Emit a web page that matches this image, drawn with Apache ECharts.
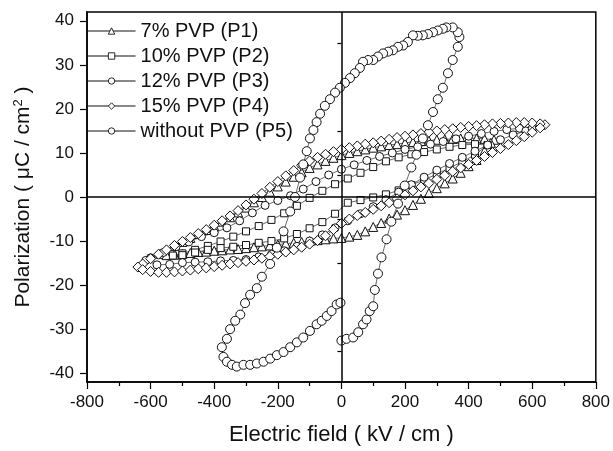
<!DOCTYPE html>
<html>
<head>
<meta charset="utf-8">
<script src="https://cdn.jsdelivr.net/npm/echarts@6/dist/echarts.min.js"></script>
<style>
  html, body { margin: 0; padding: 0; background: #fff; }
  #chart { width: 613px; height: 451px; }
</style>
</head>
<body>
<div id="chart"></div>
<script>
// legend names
const names = ['7% PVP (P1)', '10% PVP (P2)', '12% PVP (P3)', '15% PVP (P4)', 'without PVP (P5)'];

// tick labels
const xTicks = [-800, -600, -400, -200, 0, 200, 400, 600, 800];
const yTicks = [-40, -30, -20, -10, 0, 10, 20, 30, 40];
const yMinor = [-35, -25, -15, -5, 5, 15, 25, 35];

// P1, 7% PVP : [E (kV/cm), P (uC/cm2)], upper branch then lower branch
const p1 = [
  [480, 13.0], [450, 13.2], [425, 13.3], [400, 13.3], [375, 13.3], [350, 13.2], [325, 13.1], [300, 13.0],
  [275, 12.8], [250, 12.7], [225, 12.5], [200, 12.3], [175, 12.0], [150, 11.8], [125, 11.5], [100, 11.2],
  [75, 10.8], [50, 10.4], [25, 10.0], [0, 9.5], [-25, 8.9], [-50, 8.2], [-75, 7.4], [-100, 6.6],
  [-125, 5.6], [-150, 4.6], [-175, 3.5], [-200, 2.4], [-225, 1.2], [-250, 0.0], [-275, -1.2], [-300, -2.4],
  [-325, -3.5], [-350, -4.6], [-375, -5.6], [-400, -6.6], [-425, -7.5], [-450, -8.4], [-475, -9.3],
  [-500, -10.2], [-525, -11.1], [-550, -12.0], [-570, -12.9],
  [-550, -13.2], [-525, -13.1], [-500, -12.9], [-475, -12.7], [-450, -12.5], [-425, -12.4], [-400, -12.2],
  [-375, -12.1], [-350, -11.9], [-325, -11.8], [-300, -11.6], [-275, -11.4], [-250, -11.2], [-225, -11.0],
  [-200, -10.8], [-175, -10.6], [-150, -10.4], [-125, -10.2], [-100, -10.0], [-75, -9.8], [-50, -9.6],
  [-25, -9.4], [0, -9.3], [25, -9.0], [50, -8.6], [75, -7.8], [100, -6.8], [125, -5.9], [150, -4.9],
  [175, -4.0], [200, -3.0], [225, -1.8], [250, -0.4], [275, 0.9], [300, 2.0], [325, 3.1], [350, 4.2],
  [375, 5.5], [400, 7.0], [425, 8.4], [450, 10.5], [470, 12.3]
];

// P2, 10% PVP
const p2 = [
  [460, 11.8], [420, 12.0], [380, 11.8], [340, 11.4], [300, 10.8], [260, 10.2], [220, 9.7], [180, 9.0],
  [140, 8.1], [100, 6.8], [60, 5.5], [20, 4.2], [-20, 2.9], [-60, 1.4], [-100, -0.2], [-140, -2.0],
  [-180, -3.7], [-220, -5.2], [-260, -6.6], [-300, -7.8], [-340, -9.0], [-380, -10.1], [-420, -11.1],
  [-460, -12.0], [-500, -12.8], [-530, -13.3],
  [-500, -13.2], [-460, -12.6], [-420, -12.0], [-380, -11.6], [-340, -11.3], [-300, -10.9], [-260, -10.4],
  [-220, -10.0], [-180, -9.4], [-140, -8.4], [-100, -7.1], [-60, -5.7], [-20, -3.8], [20, -1.3],
  [60, -0.7], [100, -0.1], [140, 0.6], [180, 1.5], [220, 2.7], [260, 3.9], [300, 5.2], [340, 6.6],
  [380, 8.0], [420, 9.6], [460, 11.8]
];

// P3, 12% PVP
const p3 = [
  [600, 15.5], [560, 15.6], [520, 15.3], [480, 14.9], [440, 14.4], [400, 13.8], [360, 13.2], [320, 12.6],
  [280, 12.0], [240, 11.4], [200, 10.8], [160, 10.0], [120, 9.2], [80, 8.3], [40, 7.3], [0, 6.3],
  [-40, 5.0], [-80, 3.5], [-120, 1.8], [-160, 0.3], [-200, -0.8], [-240, -1.9], [-280, -3.6], [-320, -5.4],
  [-360, -7.0], [-400, -8.1], [-440, -9.0], [-480, -10.2], [-520, -11.3], [-560, -12.6], [-600, -13.8],
  [-615, -14.4],
  [-580, -15.4], [-540, -15.3], [-500, -14.9], [-460, -14.8], [-420, -14.7], [-380, -14.5], [-340, -14.4],
  [-300, -14.2], [-260, -13.6], [-220, -13.0], [-180, -12.2], [-140, -11.2], [-100, -10.0], [-60, -8.6],
  [-20, -7.0], [20, -5.4], [60, -3.8], [100, -2.2], [140, -0.6], [180, 1.1], [220, 2.8], [260, 4.5],
  [300, 6.1], [340, 7.6], [380, 9.0], [420, 10.4], [460, 11.8], [500, 13.0], [540, 14.1], [580, 15.0],
  [600, 15.5]
];

// P4, 15% PVP
const p4 = [
  [640, 16.4], [625, 16.6], [600, 16.8], [575, 16.9], [550, 16.9], [525, 16.8], [500, 16.7], [475, 16.6],
  [450, 16.4], [425, 16.2], [400, 16.0], [375, 15.8], [350, 15.5], [325, 15.3], [300, 15.0], [275, 14.7],
  [250, 14.4], [225, 14.1], [200, 13.8], [175, 13.5], [150, 13.1], [125, 12.7], [100, 12.3], [75, 12.0],
  [50, 11.6], [25, 11.2], [0, 10.8], [-25, 10.3], [-50, 9.7], [-75, 9.0], [-100, 8.2], [-125, 7.2],
  [-150, 6.0], [-175, 4.8], [-200, 3.5], [-225, 2.2], [-250, 0.8], [-275, -0.5], [-300, -1.8],
  [-325, -3.1], [-350, -4.3], [-375, -5.4], [-400, -6.4], [-425, -7.4], [-450, -8.3], [-475, -9.2],
  [-500, -10.1], [-525, -11.0], [-550, -12.0], [-575, -13.0], [-600, -14.0], [-625, -15.2], [-640, -15.9],
  [-625, -16.5], [-600, -16.9], [-575, -17.1], [-550, -17.1], [-525, -17.0], [-500, -16.8], [-475, -16.6],
  [-450, -16.3], [-425, -16.1], [-400, -15.8], [-375, -15.5], [-350, -15.2], [-325, -14.9], [-300, -14.6],
  [-275, -14.3], [-250, -13.9], [-225, -13.5], [-200, -13.0], [-175, -12.5], [-150, -12.0], [-125, -11.4],
  [-100, -10.7], [-75, -9.9], [-50, -8.8], [-25, -7.4], [0, -6.0], [25, -5.0], [50, -4.2], [75, -3.5],
  [100, -2.8], [125, -2.0], [150, -1.3], [175, -0.4], [200, 0.5], [225, 1.4], [250, 2.3], [275, 3.1],
  [300, 4.0], [325, 4.9], [350, 5.8], [375, 6.6], [400, 7.4], [425, 8.3], [450, 9.2], [475, 10.1],
  [500, 11.0], [525, 11.9], [550, 12.8], [575, 13.7], [600, 14.7], [625, 15.7]
];

// P5, without PVP
const p5 = [
  [0, -32.6], [16, -32.2], [37, -31.9], [53, -30.7], [68, -28.9], [79, -27.8], [89, -25.9], [100, -24.8],
  [105, -21.1], [115, -17.4], [126, -13.7], [142, -9.6], [157, -5.6], [178, -1.5], [199, 2.6], [220, 6.7],
  [236, 9.6], [256, 13.3], [272, 16.3], [288, 19.3], [303, 22.2], [319, 24.8], [335, 28.1], [350, 31.1],
  [366, 34.1], [371, 36.3], [366, 37.4], [350, 38.5], [330, 38.5], [319, 38.2], [303, 37.8], [288, 37.4],
  [272, 37.0], [256, 36.7], [240, 36.6], [225, 36.7], [209, 35.2], [194, 34.4], [178, 34.1], [162, 33.3],
  [147, 33.0], [131, 32.6], [115, 31.9], [100, 31.1], [84, 31.1], [68, 30.7], [58, 29.3], [42, 28.1],
  [27, 27.0], [11, 25.9], [-5, 24.8], [-20, 23.7], [-36, 22.2], [-52, 20.7], [-67, 18.9], [-78, 17.0],
  [-88, 15.2], [-99, 13.3], [-109, 10.4], [-120, 7.4], [-130, 4.4], [-146, 0.0], [-161, -3.3], [-182, -7.8],
  [-203, -11.5], [-224, -15.2], [-250, -18.1], [-266, -20.7], [-287, -22.2], [-303, -24.1], [-318, -26.7],
  [-334, -28.1], [-350, -30.0], [-360, -32.2], [-376, -34.1], [-371, -36.3], [-360, -37.4], [-344, -38.1],
  [-329, -38.5], [-308, -38.1], [-287, -38.1], [-266, -37.8], [-245, -37.4], [-224, -36.7], [-203, -35.9],
  [-182, -35.2], [-161, -34.1], [-140, -33.0], [-120, -31.9], [-99, -30.4], [-78, -28.9], [-62, -28.1],
  [-46, -27.0], [-31, -25.9], [-15, -24.4], [-3, -24.0]
];

const font = 'Liberation Sans, Arial, sans-serif';
const chart = echarts.init(document.getElementById('chart'));

const mk = (name, data, symbol, size) => ({
    name: name,
    type: 'line',
    data: data,
    symbol: symbol,
    symbolSize: size,
    showAllSymbol: true,
    animation: false,
    lineStyle: {color: '#444', width: 0.8},
    itemStyle: {color: '#fff', borderColor: '#111', borderWidth: 1}
});

const series = [
    mk(names[0], p1, 'triangle', 9),
    mk(names[1], p2, 'rect', 7),
    mk(names[2], p3, 'circle', 8),
    mk(names[3], p4, 'diamond', 10),
    mk(names[4], p5, 'circle', 9)
];
// the two zero lines
series[0].markLine = {
    silent: true,
    symbol: 'none',
    label: {show: false},
    animation: false,
    lineStyle: {color: '#000', width: 1.5, type: 'solid'},
    data: [{xAxis: 0}, {yAxis: 0}]
};

const option = {
    backgroundColor: '#fff',
    textStyle: {fontFamily: font},
    grid: {left: 87, right: 17, top: 12, bottom: 62, show: true, borderColor: '#000', borderWidth: 1.5},
    legend: {
        orient: 'vertical',
        left: 87,
        top: 21,
        padding: 0,
        itemGap: 5,
        itemWidth: 48,
        itemHeight: 8,
        itemStyle: {borderWidth: 0.9},
        lineStyle: {width: 1.1, color: '#111'},
        textStyle: {fontSize: 20, color: '#111', fontFamily: font, lineHeight: 20},
        data: names
    },
    xAxis: {
        type: 'value',
        min: -800,
        max: 800,
        interval: 200,
        name: 'Electric field ( kV / cm )',
        nameLocation: 'middle',
        nameGap: 42,
        nameTextStyle: {fontSize: 22, color: '#111', fontFamily: font},
        axisLine: {onZero: false, lineStyle: {color: '#000', width: 1.5}},
        axisTick: {length: 7, lineStyle: {color: '#000', width: 1.2}},
        minorTick: {show: true, splitNumber: 2, length: 4, lineStyle: {color: '#000', width: 1.2}},
        splitLine: {show: false},
        axisLabel: {fontSize: 17, color: '#111', margin: 12, fontFamily: font,
            customValues: xTicks}
    },
    yAxis: [{
        type: 'value',
        min: -42,
        max: 42,
        name: 'Polarization ( μC / cm{sup|2} )',
        nameLocation: 'middle',
        nameGap: 52,
        nameTextStyle: {fontSize: 21, color: '#111', fontFamily: font,
            rich: {sup: {fontSize: 13, verticalAlign: 'top', color: '#111', fontFamily: font, padding: [0, 0, 10, 0]}}},
        axisLine: {onZero: false, lineStyle: {color: '#000', width: 1.5}},
        axisTick: {length: 7, customValues: yTicks, lineStyle: {color: '#000', width: 1.2}},
        splitLine: {show: false},
        axisLabel: {fontSize: 17, color: '#111', margin: 13, fontFamily: font, customValues: yTicks}
    }, {
        type: 'value',
        min: -42,
        max: 42,
        position: 'left',
        axisLine: {show: false},
        axisTick: {length: 4, customValues: yMinor, lineStyle: {color: '#000', width: 1.2}},
        axisLabel: {show: false},
        splitLine: {show: false}
    }],
    series: series
};

chart.setOption(option);
</script>
</body>
</html>
